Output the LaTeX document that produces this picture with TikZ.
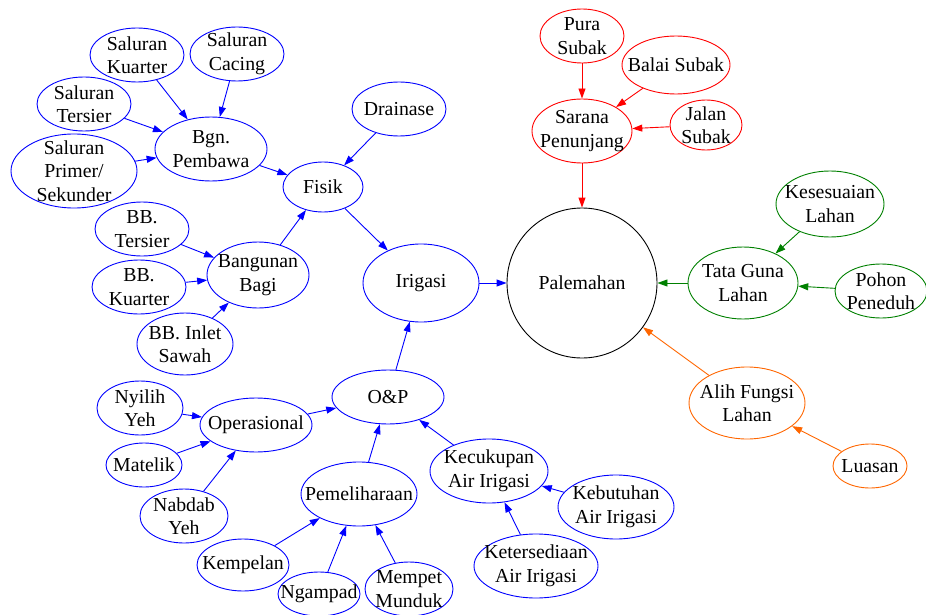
\documentclass[tikz,border=0pt]{standalone}
\usepackage{fontspec}
\setmainfont{Liberation Serif}
\usetikzlibrary{shapes.geometric,arrows.meta}
\definecolor{orng}{RGB}{255,102,0}
\definecolor{grn}{RGB}{0,128,0}
\tikzset{
  ell/.style={ellipse, draw, line width=0.9pt, align=center, inner sep=-15pt,
    font=\fontsize{19.8}{23.5}\selectfont},
  tip/.style={-{Triangle[length=10pt,width=7pt]}, line width=0.9pt}
}
\begin{document}
\begin{tikzpicture}[x=1pt,y=-1pt]
\useasboundingbox (0,0) rectangle (926,615);

% Fisik
\node[ell, draw=blue, minimum width=94pt, minimum height=54pt] (skuarter) at (137,55) {Saluran\\Kuarter};
\node[ell, draw=blue, minimum width=94pt, minimum height=54pt] (scacing) at (237,54) {Saluran\\Cacing};
\node[ell, draw=blue, minimum width=94pt, minimum height=54pt] (stersier) at (84,104) {Saluran\\Tersier};
\node[ell, draw=blue, minimum width=126pt, minimum height=74pt] (sprimer) at (74,171) {Saluran\\Primer/\\Sekunder};
\node[ell, draw=blue, minimum width=112pt, minimum height=64pt] (bgn) at (211,149) {Bgn.\\Pembawa};
\node[ell, draw=blue, minimum width=80pt, minimum height=50pt] (fisik) at (323,187) {Fisik};
\node[ell, draw=blue, minimum width=94pt, minimum height=54pt] (drainase) at (399,109) {Drainase};
\node[ell, draw=blue, minimum width=116pt, minimum height=78pt] (irigasi) at (421,283) {Irigasi};
\node[ell, draw=blue, minimum width=94pt, minimum height=54pt] (bbtersier) at (142,229) {BB.\\Tersier};
\node[ell, draw=blue, minimum width=94pt, minimum height=54pt] (bbkuarter) at (139,287) {BB.\\Kuarter};
\node[ell, draw=blue, minimum width=96pt, minimum height=62pt] (bbinlet) at (185,344) {BB. Inlet\\Sawah};
\node[ell, draw=blue, minimum width=102pt, minimum height=66pt] (bbagi) at (258,275) {Bangunan\\Bagi};

% O&P
\node[ell, draw=blue, minimum width=112pt, minimum height=54pt] (op) at (388,397) {O\&P};
\node[ell, draw=blue, minimum width=86pt, minimum height=54pt] (nyilih) at (140,408) {Nyilih\\Yeh};
\node[ell, draw=blue, minimum width=112pt, minimum height=54pt] (operasional) at (256,425) {Operasional};
\node[ell, draw=blue, minimum width=76pt, minimum height=44pt] (matelik) at (144,465) {Matelik};
\node[ell, draw=blue, minimum width=88pt, minimum height=54pt] (nabdab) at (184,516) {Nabdab\\Yeh};
\node[ell, draw=blue, minimum width=116pt, minimum height=64pt] (pemeliharaan) at (359,494) {Pemeliharaan};
\node[ell, draw=blue, minimum width=92pt, minimum height=52pt] (kempelan) at (243,565) {Kempelan};
\node[ell, draw=blue, minimum width=82pt, minimum height=44pt] (ngampad) at (319,594) {Ngampad};
\node[ell, draw=blue, minimum width=88pt, minimum height=54pt] (mempet) at (409,589) {Mempet\\Munduk};
\node[ell, draw=blue, minimum width=118pt, minimum height=64pt] (kecukupan) at (489,471) {Kecukupan\\Air Irigasi};
\node[ell, draw=blue, minimum width=116pt, minimum height=64pt] (kebutuhan) at (616,507) {Kebutuhan\\Air Irigasi};
\node[ell, draw=blue, minimum width=124pt, minimum height=64pt] (ketersediaan) at (536,566) {Ketersediaan\\Air Irigasi};

% Sarana
\node[ell, draw=red, minimum width=84pt, minimum height=54pt] (pura) at (582,36) {Pura\\Subak};
\node[ell, draw=red, minimum width=108pt, minimum height=58pt] (balai) at (676,65) {Balai Subak};
\node[ell, draw=red, minimum width=72pt, minimum height=50pt] (jalan) at (706,125) {Jalan\\Subak};
\node[ell, draw=red, minimum width=100pt, minimum height=64pt] (sarana) at (582,131) {Sarana\\Penunjang};

\node[ell, circle, draw=black, minimum size=150pt] (palemahan) at (582,283) {Palemahan};

% Tata Guna Lahan
\node[ell, draw=grn, minimum width=108pt, minimum height=66pt] (kesesuaian) at (830,204) {Kesesuaian\\Lahan};
\node[ell, draw=grn, minimum width=110pt, minimum height=72pt] (tata) at (743,283) {Tata Guna\\Lahan};
\node[ell, draw=grn, minimum width=92pt, minimum height=54pt] (pohon) at (881,291) {Pohon\\Peneduh};

% Alih Fungsi
\node[ell, draw=orng, minimum width=116pt, minimum height=72pt] (alih) at (747,403) {Alih Fungsi\\Lahan};
\node[ell, draw=orng, minimum width=74pt, minimum height=44pt] (luasan) at (870,466) {Luasan};

\foreach \a in {skuarter,scacing,stersier,sprimer} {\draw[tip, blue] (\a) -- (bgn);}
\foreach \a in {bbtersier,bbkuarter,bbinlet} {\draw[tip, blue] (\a) -- (bbagi);}
\foreach \a in {bgn,drainase,bbagi} {\draw[tip, blue] (\a) -- (fisik);}
\foreach \a in {nyilih,matelik,nabdab} {\draw[tip, blue] (\a) -- (operasional);}
\foreach \a in {kempelan,ngampad,mempet} {\draw[tip, blue] (\a) -- (pemeliharaan);}
\foreach \a in {kebutuhan,ketersediaan} {\draw[tip, blue] (\a) -- (kecukupan);}
\foreach \a in {operasional,pemeliharaan,kecukupan} {\draw[tip, blue] (\a) -- (op);}
\draw[tip, blue] (fisik) -- (irigasi);
\draw[tip, blue] (op) -- (irigasi);
\draw[tip, blue] (irigasi) -- (palemahan);

\foreach \a in {pura,balai,jalan} {\draw[tip, red] (\a) -- (sarana);}
\draw[tip, red] (sarana) -- (palemahan);

\foreach \a in {kesesuaian,pohon} {\draw[tip, grn] (\a) -- (tata);}
\draw[tip, grn] (tata) -- (palemahan);

\draw[tip, orng] (luasan) -- (alih);
\draw[tip, orng] (alih) -- (palemahan);

\end{tikzpicture}
\end{document}
